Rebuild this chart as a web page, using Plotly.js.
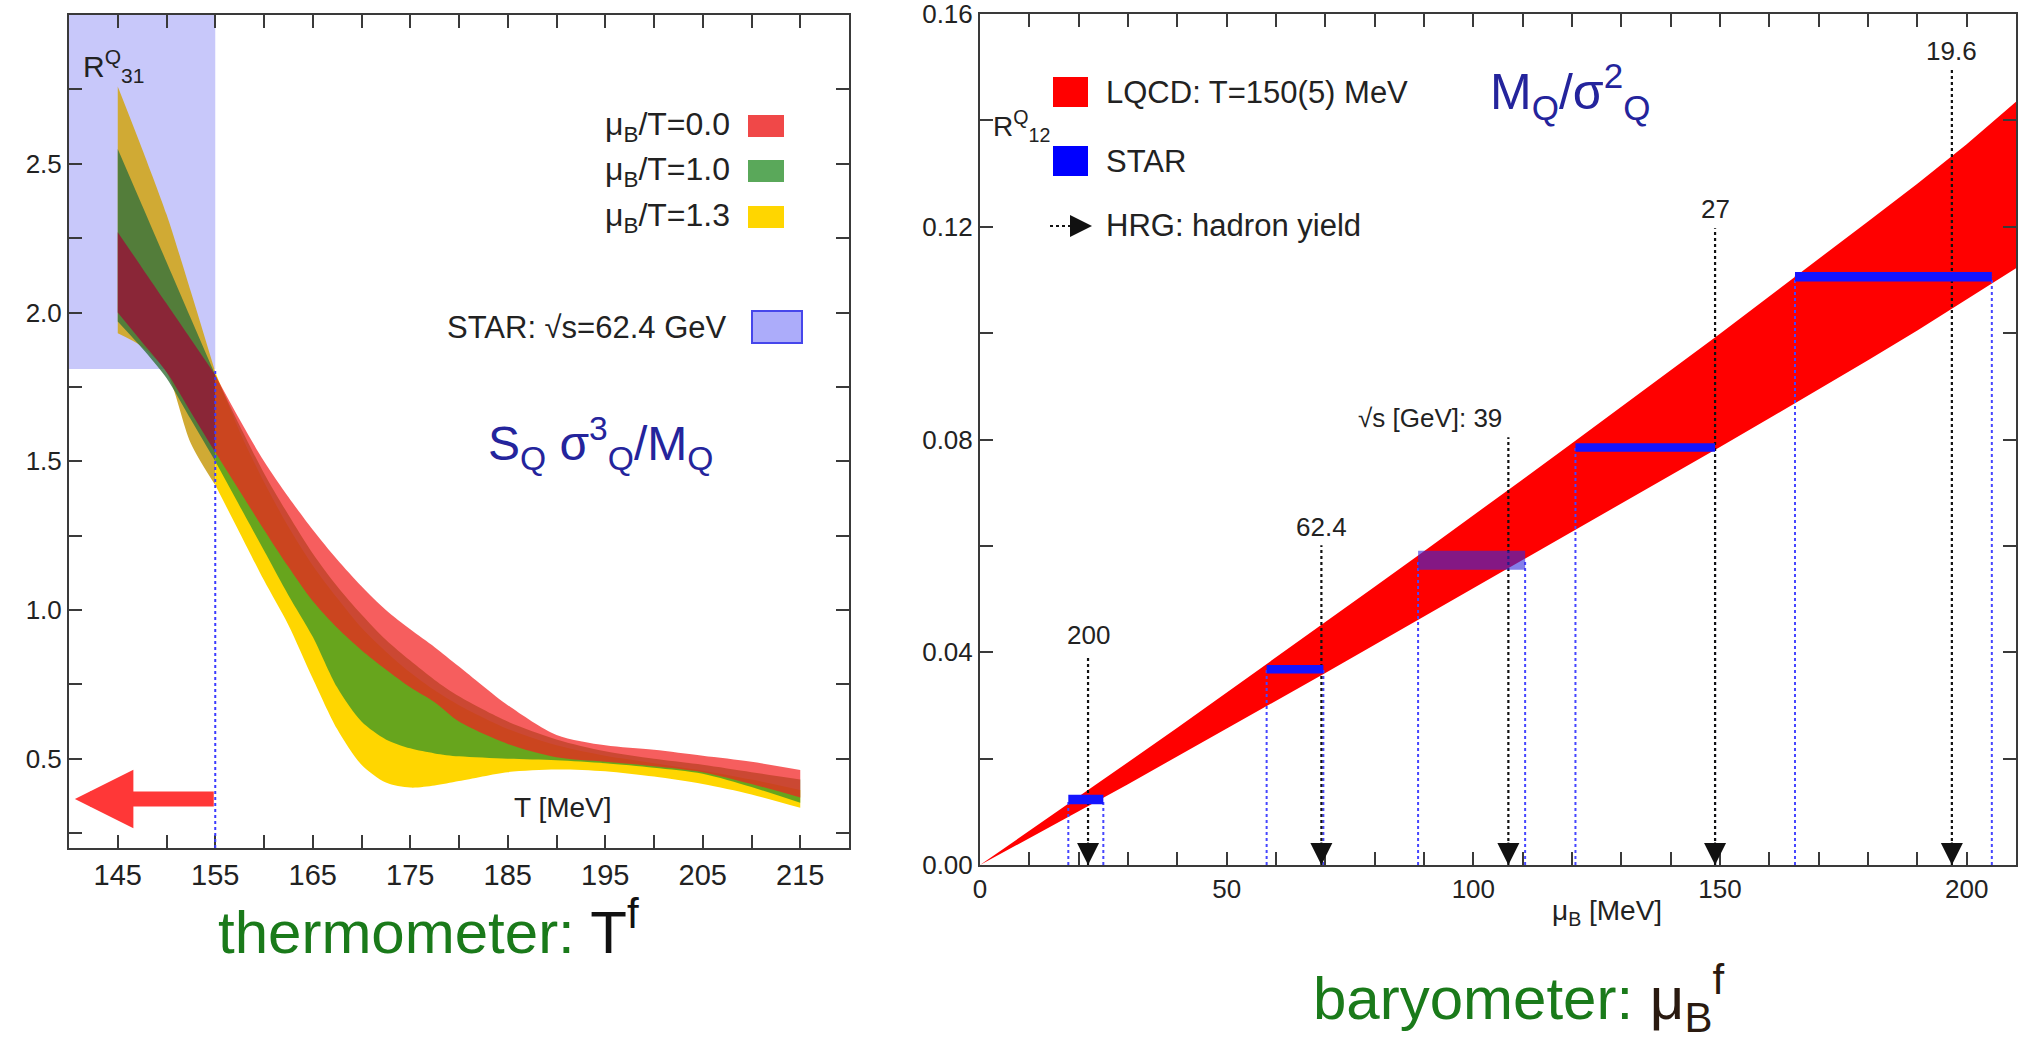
<!DOCTYPE html>
<html>
<head>
<meta charset="utf-8">
<script src="https://cdn.plot.ly/plotly-3.0.1.min.js"></script>
<style>html,body{margin:0;padding:0;background:#fff}#chart{width:2033px;height:1043px}</style>
</head>
<body>
<div id="chart"></div>
<script>
// ---------------- Left panel: R31 = S_Q sigma_Q^3 / M_Q vs T ----------------
const T_MEV = [145,147.5,150,152.5,155,157.5,160,162.5,165,167.5,170,172.5,175,177.5,180,185,190,195,200,205,210,215];
const R31_MU00_LO = [2.00,1.90,1.80,1.665,1.53,1.40,1.27,1.145,1.03,0.94,0.865,0.80,0.74,0.69,0.625,0.55,0.505,0.49,0.475,0.455,0.415,0.37];
const R31_MU00_HI = [2.27,2.15,2.03,1.91,1.79,1.64,1.50,1.38,1.27,1.17,1.08,1.00,0.935,0.875,0.81,0.68,0.58,0.545,0.53,0.51,0.49,0.462];
const R31_MU10_LO = [1.97,1.88,1.78,1.64,1.50,1.35,1.20,1.05,0.91,0.74,0.625,0.565,0.535,0.518,0.508,0.50,0.495,0.485,0.47,0.45,0.405,0.352];
const R31_MU10_HI = [2.55,2.36,2.17,1.98,1.79,1.62,1.46,1.32,1.19,1.08,0.985,0.90,0.83,0.765,0.71,0.625,0.565,0.525,0.50,0.48,0.455,0.43];
const R31_MU13_LO = [1.93,1.885,1.80,1.56,1.42,1.26,1.10,0.95,0.77,0.60,0.48,0.42,0.403,0.41,0.425,0.455,0.464,0.458,0.44,0.415,0.38,0.335];
const R31_MU13_HI = [2.76,2.55,2.33,2.07,1.80,1.60,1.43,1.28,1.15,1.04,0.94,0.86,0.79,0.73,0.68,0.60,0.545,0.51,0.485,0.46,0.43,0.395];
const LEFT_LEGEND = ['μ<sub>B</sub>/T=0.0','μ<sub>B</sub>/T=1.0','μ<sub>B</sub>/T=1.3'];
const STAR_LABEL_L = 'STAR: √s=62.4 GeV';
const STAR_T_RANGE = [140,155];      // STAR box T extent
const STAR_R31_RANGE = [1.81,3.0];   // STAR R31 band
const T_FREEZE = 155;
const ARROW_R31 = 0.365;
const ARROW_TIP_T = 140.6;
const LEFT_X_TICKS = [145,155,165,175,185,195,205,215];
const LEFT_X_MINOR = [150,160,170,180,190,200,210];
const LEFT_Y_TICKS = [0.5,1.0,1.5,2.0,2.5];
const LEFT_Y_MINOR = [0.25,0.75,1.25,1.75,2.25,2.75];

// ---------------- Right panel: R12 = M_Q / sigma_Q^2 vs mu_B ----------------
const MU_B = [0,10,20,30,40,50,60,70,80,90,100,110,120,130,140,150,160,170,180,190,200,210];
const R12_LQCD_LO = [0,0.0050,0.0101,0.0152,0.0204,0.0256,0.0308,0.0361,0.0414,0.0467,0.0520,0.0573,0.0626,0.0679,0.0732,0.0786,0.0840,0.0894,0.0949,0.1005,0.1063,0.1122];
const R12_LQCD_HI = [0,0.0064,0.0128,0.0193,0.0258,0.0324,0.0390,0.0456,0.0523,0.0590,0.0657,0.0725,0.0793,0.0861,0.0930,0.0999,0.1069,0.1139,0.1210,0.1281,0.1355,0.1435];
const SQRT_S_LABELS = ['200','62.4','√s [GeV]: 39','27','19.6'];
const STAR_R12 = [0.0123,0.0368,0.0573,0.0785,0.1106];
const STAR_R12_ERR = [0.0009,0.0008,0.0018,0.0008,0.0009];
const STAR_MU_LO = [17.9,58.1,88.8,120.7,165.2];
const STAR_MU_HI = [25.0,69.6,110.5,149.0,205.1];
const HRG_MU = [21.9,69.2,107.1,149.0,197.0];
const HRG_TOP = [0.0394,0.0601,0.0804,0.1197,0.150];
const HRG_LABEL_Y = [0.0432,0.0636,0.0840,0.1234,0.1531];
const RIGHT_LEGEND = ['LQCD: T=150(5) MeV','STAR','HRG: hadron yield'];
const RIGHT_Y_TICKS = [0,0.04,0.08,0.12,0.16];
const RIGHT_Y_MINOR = [0.02,0.06,0.10,0.14];
const RIGHT_X_TICKS = [0,50,100,150,200];

// ---------------- layout geometry (pixels) ----------------
const W = 2033, H = 1043;
const LP = {x0:69, x1:849, y0:15, y1:848};
const RP = {x0:980, x1:2016, y0:14, y1:865};
const px = v => v / W;
const py = v => 1 - v / H;
const FONT = 'Liberation Sans, Arial, Helvetica, sans-serif';
const NARROW = 'Liberation Sans Narrow, Arial Narrow, Liberation Sans, Arial, sans-serif';
const TXT = '#222';
const AX = '#3a3a3a';

function bandTraces(xs, lo, hi, color, xa, ya, shape) {
  const ln = {width: 0, shape: shape || 'spline', smoothing: 0.8};
  return [
    {x: xs, y: lo, xaxis: xa, yaxis: ya, mode: 'lines', line: ln, hoverinfo: 'skip', showlegend: false},
    {x: xs, y: hi, xaxis: xa, yaxis: ya, mode: 'lines', line: ln, fill: 'tonexty', fillcolor: color, hoverinfo: 'skip', showlegend: false}
  ];
}
const iSplit = T_MEV.indexOf(T_FREEZE);
const part = (arr, inside) => inside ? arr.slice(0, iSplit + 1) : arr.slice(iSplit);

const bands = [
  {lo: R31_MU13_LO, hi: R31_MU13_HI, dark: 'rgb(208,170,52)', bright: 'rgb(255,214,0)'},
  {lo: R31_MU10_LO, hi: R31_MU10_HI, dark: 'rgba(55,115,60,0.82)', bright: 'rgba(45,145,40,0.72)'},
  {lo: R31_MU00_LO, hi: R31_MU00_HI, dark: 'rgba(150,20,55,0.82)', bright: 'rgba(242,32,32,0.72)'}
];
let traces = [];
bands.forEach(b => {
  traces = traces.concat(bandTraces(part(T_MEV, true), part(b.lo, true), part(b.hi, true), b.dark, 'x', 'y'));
  traces = traces.concat(bandTraces(part(T_MEV, false), part(b.lo, false), part(b.hi, false), b.bright, 'x', 'y'));
});

// right: LQCD band
traces = traces.concat(bandTraces(MU_B, R12_LQCD_LO, R12_LQCD_HI, 'rgb(255,0,0)', 'x2', 'y2', 'linear'));

// STAR dotted verticals
const vx = [], vy = [];
STAR_R12.forEach((v, i) => {
  vx.push(STAR_MU_LO[i], STAR_MU_LO[i], null, STAR_MU_HI[i], STAR_MU_HI[i], null);
  vy.push(0, v, null, 0, v, null);
});
traces.push({x: vx, y: vy, xaxis: 'x2', yaxis: 'y2', mode: 'lines', line: {color: 'rgb(70,70,255)', width: 2, dash: 'dot'}, hoverinfo: 'skip', showlegend: false});

// HRG dotted arrows (shafts)
const hx = [], hy = [];
HRG_MU.forEach((m, i) => { hx.push(m, m, null); hy.push(0, HRG_TOP[i], null); });
traces.push({x: hx, y: hy, xaxis: 'x2', yaxis: 'y2', mode: 'lines', line: {color: '#111', width: 2.2, dash: 'dot'}, hoverinfo: 'skip', showlegend: false});

// STAR bars
STAR_R12.forEach((v, i) => {
  const e = STAR_R12_ERR[i];
  traces.push({
    x: [STAR_MU_LO[i], STAR_MU_HI[i], STAR_MU_HI[i], STAR_MU_LO[i], STAR_MU_LO[i]],
    y: [v - e, v - e, v + e, v + e, v - e],
    xaxis: 'x2', yaxis: 'y2', mode: 'lines', fill: 'toself',
    fillcolor: i === 2 ? 'rgba(50,40,220,0.6)' : 'rgb(20,20,255)',
    line: {width: 0}, hoverinfo: 'skip', showlegend: false
  });
});

// ---------------- shapes ----------------
const shapes = [
  {type: 'rect', xref: 'x', yref: 'y', x0: STAR_T_RANGE[0], x1: STAR_T_RANGE[1], y0: STAR_R31_RANGE[0], y1: STAR_R31_RANGE[1],
   fillcolor: 'rgb(200,200,250)', line: {width: 0}, layer: 'below'},
  {type: 'line', xref: 'x', yref: 'y', x0: T_FREEZE, x1: T_FREEZE, y0: 0.2, y1: STAR_R31_RANGE[0],
   line: {color: 'rgb(60,60,255)', width: 2, dash: 'dot'}, layer: 'above'}
];
const legendColorsL = ['rgb(240,72,72)','rgb(90,168,90)','rgb(255,214,0)'];
const legRowsL = [126, 171, 217];
legRowsL.forEach((yy, i) => {
  shapes.push({type: 'rect', xref: 'paper', yref: 'paper', x0: px(748), x1: px(784), y0: py(yy + 11), y1: py(yy - 11),
    fillcolor: legendColorsL[i], line: {width: 0}});
});
const STAR_ROW_L = 327;
shapes.push({type: 'rect', xref: 'paper', yref: 'paper', x0: px(752), x1: px(802), y0: py(STAR_ROW_L + 16), y1: py(STAR_ROW_L - 16),
  fillcolor: 'rgb(172,172,250)', line: {color: 'rgb(70,70,235)', width: 2}});
// right legend
const legRowsR = [92, 161, 226];
shapes.push({type: 'rect', xref: 'paper', yref: 'paper', x0: px(1053), x1: px(1088), y0: py(legRowsR[0] + 15), y1: py(legRowsR[0] - 15), fillcolor: 'rgb(255,0,0)', line: {width: 0}});
shapes.push({type: 'rect', xref: 'paper', yref: 'paper', x0: px(1053), x1: px(1088), y0: py(legRowsR[1] + 15), y1: py(legRowsR[1] - 15), fillcolor: 'rgb(0,0,255)', line: {width: 0}});
shapes.push({type: 'line', xref: 'paper', yref: 'paper', x0: px(1050), x1: px(1078), y0: py(legRowsR[2]), y1: py(legRowsR[2]), line: {color: '#111', width: 2, dash: 'dot'}});

// ---------------- annotations ----------------
const ann = [];
const A = (o) => ann.push(Object.assign({showarrow: false, xanchor: 'center', yanchor: 'middle', font: {family: FONT, size: 26, color: TXT}}, o));

A({xref: 'x', yref: 'y', x: 144.6, y: 2.83, text: 'R<sup>Q</sup><sub>31</sub>', font: {family: FONT, size: 30, color: TXT}});
LEFT_LEGEND.forEach((t, i) => A({xref: 'paper', yref: 'paper', x: px(732), y: py(legRowsL[i]), xanchor: 'right', text: t, font: {family: FONT, size: 32, color: TXT}}));
A({xref: 'paper', yref: 'paper', x: px(729), y: py(STAR_ROW_L), xanchor: 'right', text: STAR_LABEL_L, font: {family: FONT, size: 31, color: TXT}});
A({xref: 'x', yref: 'y', x: 194.5, y: 1.56, text: 'S<sub>Q</sub> σ<sup>3</sup><sub>Q</sub>/M<sub>Q</sub>', font: {family: FONT, size: 48, color: '#24249c'}});
A({xref: 'x', yref: 'y', x: 190.7, y: 0.335, text: 'T [MeV]', font: {family: FONT, size: 28, color: TXT}});
// red arrow (left)
ann.push({xref: 'x', yref: 'y', axref: 'x', ayref: 'y', x: ARROW_TIP_T, y: ARROW_R31, ax: T_FREEZE, ay: ARROW_R31,
  showarrow: true, arrowhead: 2, arrowsize: 0.78, arrowwidth: 15, arrowcolor: 'rgb(255,55,55)', standoff: 0, text: ''});

// right panel texts
A({xref: 'x2', yref: 'y2', x: 8.5, y: 0.139, text: 'R<sup>Q</sup><sub>12</sub>', font: {family: FONT, size: 28, color: TXT}});
A({xref: 'x2', yref: 'y2', x: 119.5, y: 0.1455, text: 'M<sub>Q</sub>/σ<sup>2</sup><sub>Q</sub>', font: {family: FONT, size: 50, color: '#24249c'}});
legRowsR.forEach((yy, i) => A({xref: 'paper', yref: 'paper', x: px(1104), y: py(yy), xanchor: 'left', text: RIGHT_LEGEND[i], font: {family: FONT, size: 31, color: TXT}}));
ann.push({xref: 'paper', yref: 'paper', x: px(1092), y: py(legRowsR[2]), ax: -14, ay: 0, showarrow: true, arrowhead: 2, arrowsize: 2.2, arrowwidth: 2, arrowcolor: '#111', standoff: 0, text: ''});
SQRT_S_LABELS.forEach((t, i) => {
  const o = {xref: 'x2', yref: 'y2', x: HRG_MU[i], y: HRG_LABEL_Y[i], text: t, font: {family: FONT, size: 26, color: TXT}};
  if (i === 2) { o.xanchor = 'right'; o.xshift = -4; }
  A(o);
  ann.push({xref: 'x2', yref: 'y2', x: HRG_MU[i], y: 0, ax: 0, ay: -24, showarrow: true, arrowhead: 2, arrowsize: 2.2, arrowwidth: 2, arrowcolor: '#111', standoff: 0, text: ''});
});
A({xref: 'x2', yref: 'paper', x: 127, y: py(912), text: 'μ<sub>B</sub> [MeV]', font: {family: FONT, size: 28, color: TXT}});

// bottom titles
A({xref: 'paper', yref: 'paper', x: px(428), y: py(928), text: '<span style="color:#1a7a1a">thermometer:</span> T<sup>f</sup>', font: {family: FONT, size: 60, color: '#111'}});
A({xref: 'paper', yref: 'paper', x: px(1518), y: py(998), text: '<span style="color:#1a7a1a">baryometer:</span> μ<sub>B</sub><sup>f</sup>', font: {family: FONT, size: 60, color: '#2a1a10'}});

// ---------------- axes ----------------
function axisBase(extra) {
  return Object.assign({
    showline: true, linecolor: AX, linewidth: 2, mirror: 'allticks',
    ticks: 'inside', ticklen: 13, tickwidth: 2, tickcolor: AX,
    showgrid: false, zeroline: false, fixedrange: true, ticklabeloverflow: 'allow',
    tickfont: {family: FONT, size: 26, color: TXT}
  }, extra);
}
const minorTicks = (vals) => ({tickmode: 'array', tickvals: vals, ticks: 'inside', ticklen: 13, tickwidth: 2, tickcolor: AX});
const layout = {
  width: W, height: H,
  margin: {l: 0, r: 0, t: 0, b: 0},
  paper_bgcolor: '#fff', plot_bgcolor: '#fff',
  showlegend: false,
  xaxis: axisBase({domain: [px(LP.x0), px(LP.x1)], range: [140, 220], anchor: 'y',
    tickmode: 'array', tickvals: LEFT_X_TICKS, ticktext: LEFT_X_TICKS.map(String), minor: minorTicks(LEFT_X_MINOR),
    tickfont: {family: NARROW, size: 29, color: TXT}}),
  yaxis: axisBase({domain: [py(LP.y1), py(LP.y0)], range: [0.2, 3.0], anchor: 'x',
    tickmode: 'array', tickvals: LEFT_Y_TICKS, ticktext: LEFT_Y_TICKS.map(v => v.toFixed(1)), minor: minorTicks(LEFT_Y_MINOR)}),
  xaxis2: axisBase({domain: [px(RP.x0), px(RP.x1)], range: [0, 210], anchor: 'y2',
    tickmode: 'array', tickvals: RIGHT_X_TICKS, ticktext: RIGHT_X_TICKS.map(String),
    minor: {dtick: 10, tick0: 0, ticks: 'inside', ticklen: 13, tickwidth: 2, tickcolor: AX}}),
  yaxis2: axisBase({domain: [py(RP.y1), py(RP.y0)], range: [0, 0.16], anchor: 'x2',
    tickmode: 'array', tickvals: RIGHT_Y_TICKS, ticktext: RIGHT_Y_TICKS.map(v => v.toFixed(2)), minor: minorTicks(RIGHT_Y_MINOR)}),
  shapes: shapes,
  annotations: ann
};
Plotly.newPlot('chart', traces, layout, {staticPlot: true, displayModeBar: false});
</script>
</body>
</html>
